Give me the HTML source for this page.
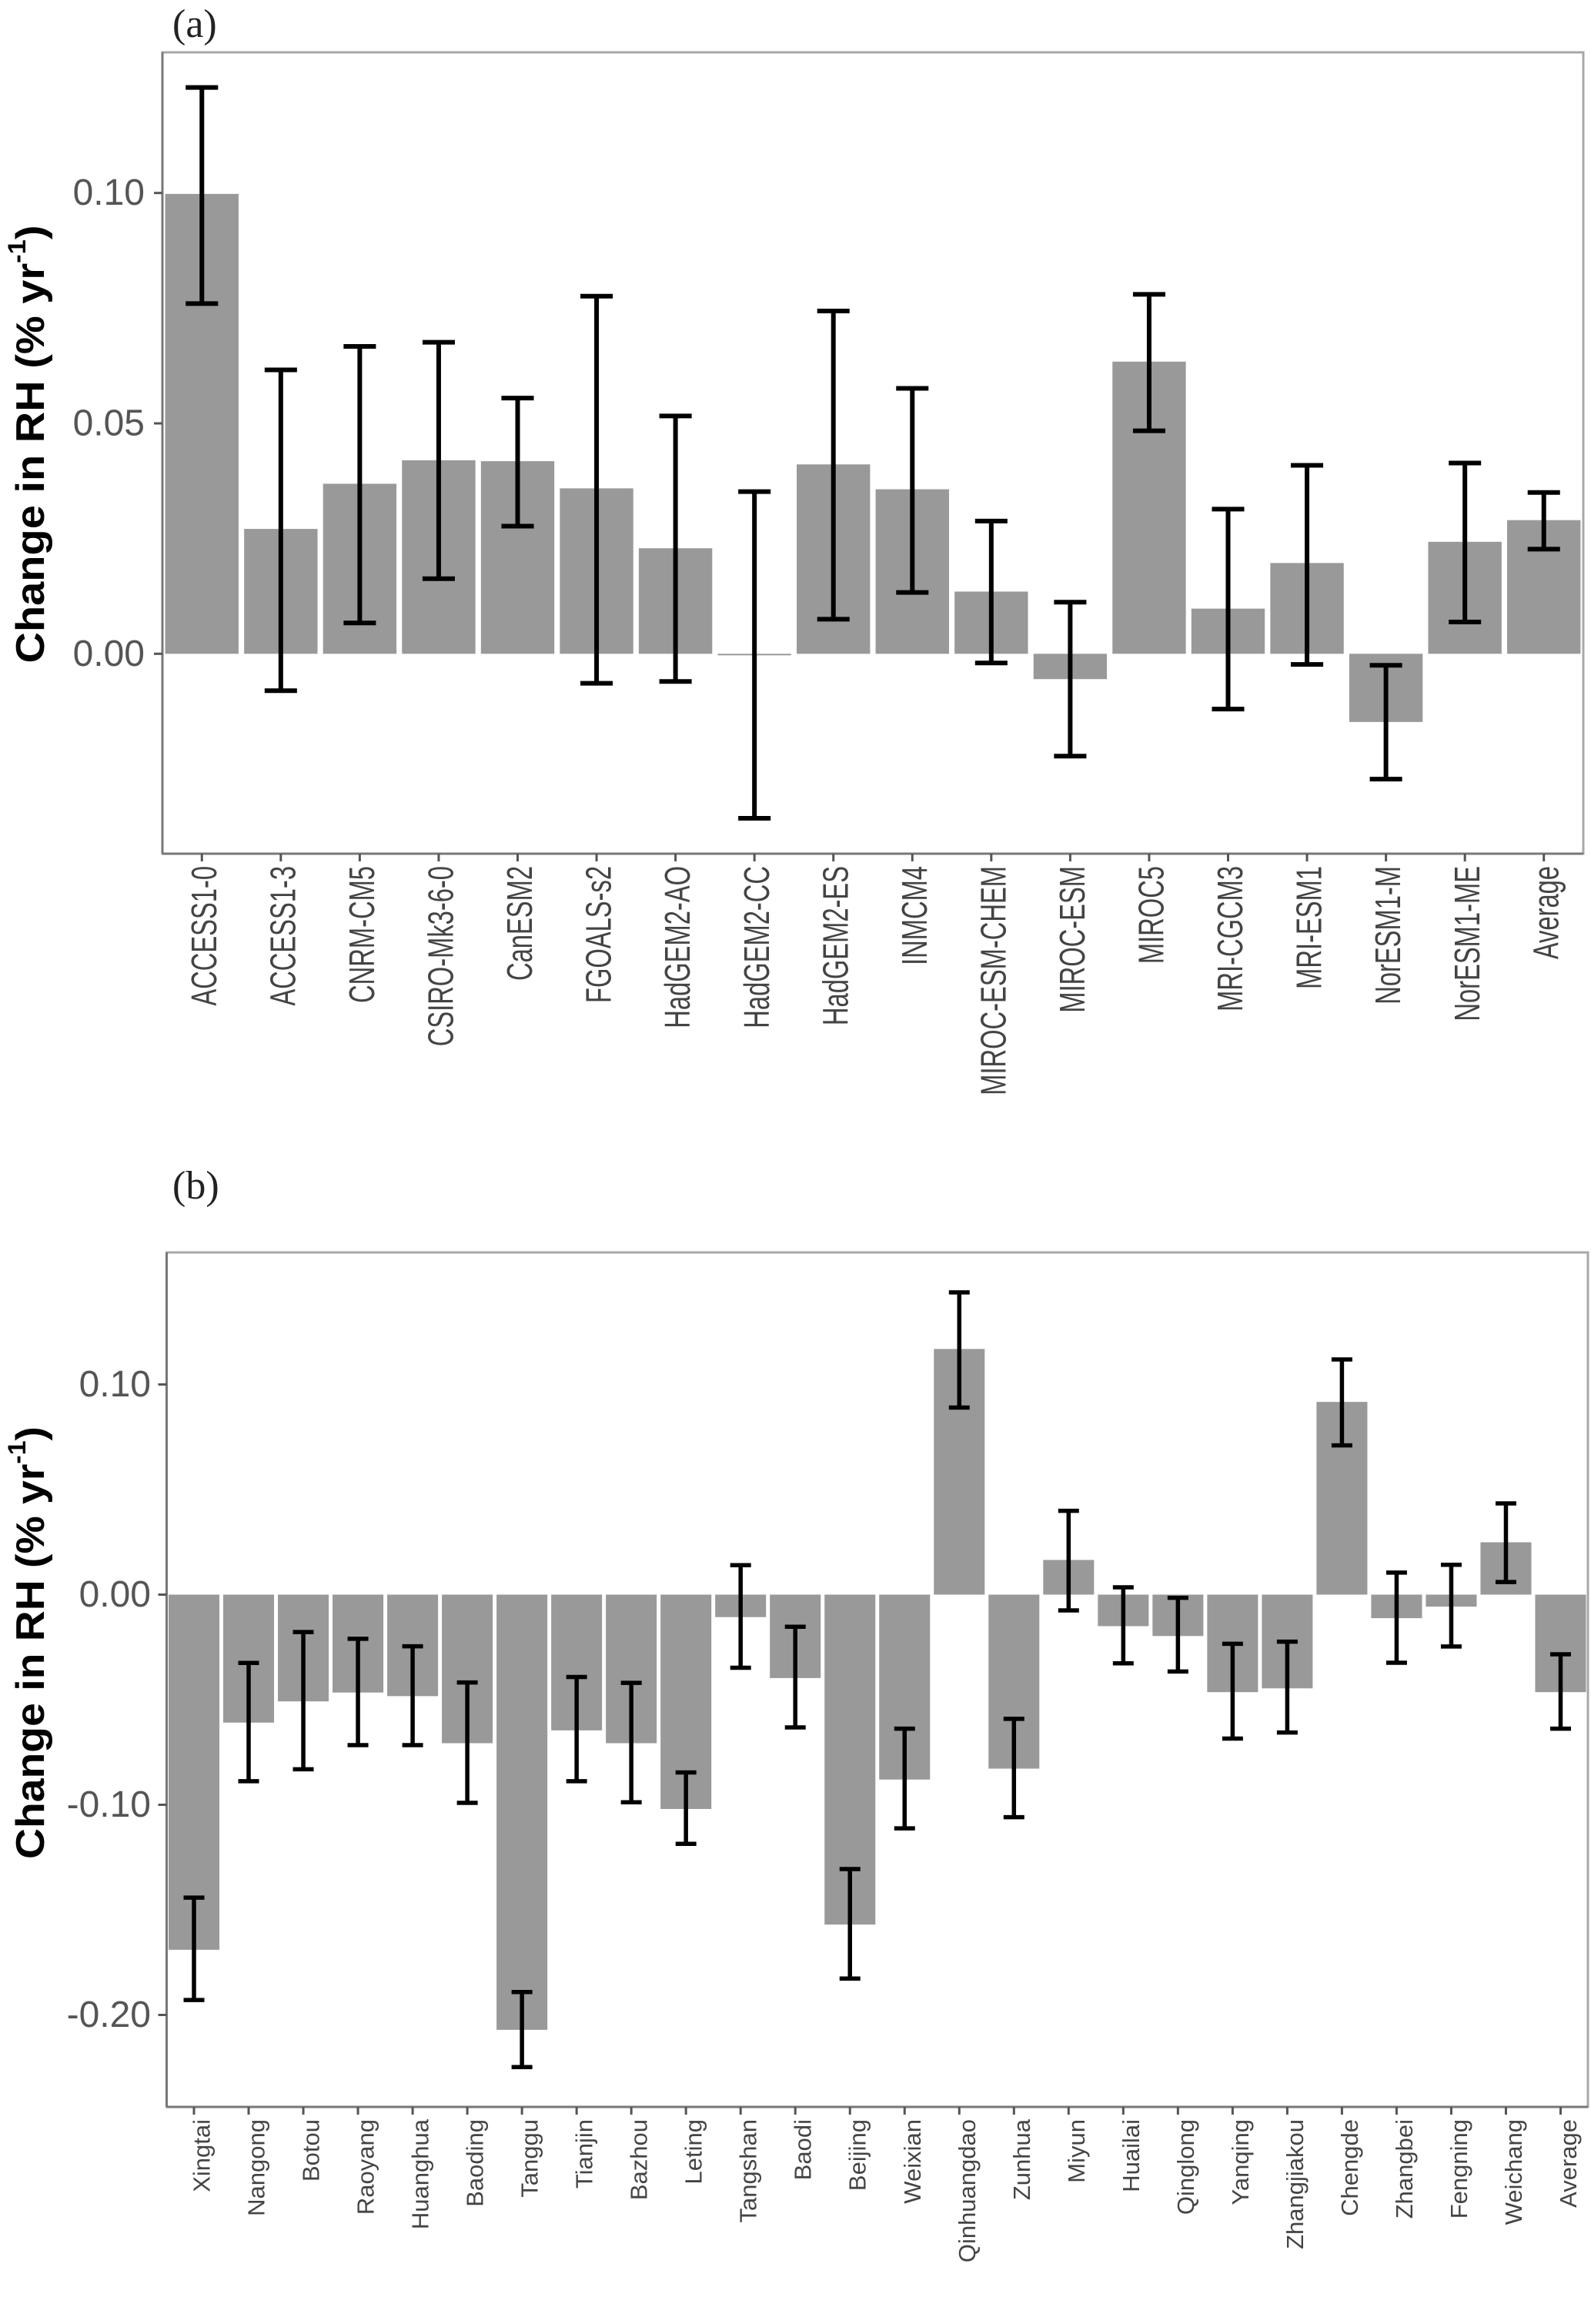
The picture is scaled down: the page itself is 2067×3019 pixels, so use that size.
<!DOCTYPE html>
<html><head><meta charset="utf-8"><style>
html,body{margin:0;padding:0;background:#fff;}
svg{display:block;}
text{font-family:"Liberation Sans",sans-serif;}
</style></head>
<body>
<svg id="fig" width="2067" height="3019" viewBox="0 0 2067 3019" xmlns="http://www.w3.org/2000/svg">
<rect x="0" y="0" width="2067" height="3019" fill="#fff"/>
<text x="224" y="48" style="font-family:'Liberation Serif',serif;font-size:52px" fill="#222">(a)</text>
<text x="224" y="1557" style="font-family:'Liberation Serif',serif;font-size:52px" fill="#222">(b)</text>
<g id="pa"></g>
<g id="pb"></g>
</svg>
<script>
const aCategories = ["ACCESS1-0","ACCESS1-3","CNRM-CM5","CSIRO-Mk3-6-0","CanESM2","FGOALS-s2","HadGEM2-AO","HadGEM2-CC","HadGEM2-ES","INMCM4","MIROC-ESM-CHEM","MIROC-ESM","MIROC5","MRI-CGCM3","MRI-ESM1","NorESM1-M","NorESM1-ME","Average"];
const aValues = [0.0998,0.0271,0.0369,0.042,0.0418,0.0359,0.0229,-0.0003,0.0411,0.0357,0.0135,-0.0055,0.0634,0.0098,0.0197,-0.0148,0.0243,0.029];
const aUpper = [0.1229,0.0616,0.0667,0.0676,0.0555,0.0776,0.0516,0.0352,0.0744,0.0576,0.0288,0.0112,0.078,0.0314,0.0409,-0.0025,0.0414,0.035];
const aLower = [0.076,-0.008,0.0067,0.0163,0.0277,-0.0064,-0.006,-0.0357,0.0075,0.0133,-0.002,-0.0222,0.0484,-0.012,-0.0023,-0.0272,0.0069,0.0227];
const aTicks = [0.10,0.05,0.00];
const aTickLabels = ["0.10","0.05","0.00"];

const bCategories = ["Xingtai","Nangong","Botou","Raoyang","Huanghua","Baoding","Tanggu","Tianjin","Bazhou","Leting","Tangshan","Baodi","Beijing","Weixian","Qinhuangdao","Zunhua","Miyun","Huailai","Qinglong","Yanqing","Zhangjiakou","Chengde","Zhangbei","Fengning","Weichang","Average"];
const bValues = [-0.169,-0.0609,-0.0508,-0.0466,-0.0483,-0.0707,-0.2071,-0.0646,-0.0707,-0.102,-0.0107,-0.0397,-0.157,-0.088,0.1169,-0.0828,0.0165,-0.015,-0.0197,-0.0464,-0.0446,0.0917,-0.0112,-0.0057,0.0249,-0.0464];
const bUpper = [-0.1442,-0.0325,-0.0178,-0.021,-0.0246,-0.0418,-0.1891,-0.0392,-0.042,-0.0846,0.014,-0.0153,-0.1306,-0.0638,0.1438,-0.0591,0.0399,0.0035,-0.0015,-0.0234,-0.0224,0.1119,0.0105,0.0142,0.0434,-0.0284];
const bLower = [-0.1929,-0.0888,-0.0831,-0.0716,-0.0716,-0.0991,-0.2248,-0.0888,-0.0988,-0.1186,-0.0348,-0.0632,-0.1827,-0.1112,0.089,-0.1059,-0.0075,-0.0327,-0.0366,-0.0685,-0.0656,0.071,-0.0324,-0.0247,0.006,-0.0638];
const bTicks = [0.10,0.00,-0.10,-0.20];
const bTickLabels = ["0.10","0.00","-0.10","-0.20"];

const NS = "http://www.w3.org/2000/svg";
function mk(tag, attrs, parent){
  const e = document.createElementNS(NS, tag);
  for (const k in attrs) e.setAttribute(k, attrs[k]);
  parent.appendChild(e);
  return e;
}

function drawPanel(g, cfg, cats, vals, up, lo, ticks, tickLabels, prefix){
  const yScale = v => cfg.zeroY - v * cfg.pxPerUnit;
  const pitch = (cfg.right - cfg.left) / cats.length;
  const xCenter = i => cfg.left + pitch * (i + 0.5);
  const frame = mk("rect", {x: cfg.left, y: cfg.top, width: cfg.right - cfg.left, height: cfg.bottom - cfg.top, fill: "none", stroke: "#a8a8a8", "stroke-width": 3}, g);
  
  
  const yl = mk("line", {x1: cfg.left, y1: cfg.top, x2: cfg.left, y2: cfg.bottom, stroke: "#777", "stroke-width": 3}, g);
  
  
  const xl = mk("line", {x1: cfg.left, y1: cfg.bottom, x2: cfg.right, y2: cfg.bottom, stroke: "#777", "stroke-width": 3}, g);
  
  
  ticks.forEach((t, i) => {
    const y = yScale(t);
    const tk = mk("line", {x1: cfg.left - 11, y1: y, x2: cfg.left, y2: y, stroke: "#555", "stroke-width": 3}, g);
    
    
    const tx = mk("text", {x: cfg.tickLabelRight, y: y, "text-anchor": "end", "dominant-baseline": "central", "font-size": 48, fill: "#555"}, g);
    tx.textContent = tickLabels[i];
    
    
  });
  cats.forEach((c, i) => {
    const w = pitch * 0.93;
    const y0 = yScale(0), y1 = yScale(vals[i]);
    const h = Math.max(Math.abs(y1 - y0), 2);
    const bar = mk("rect", {x: xCenter(i) - w / 2, y: Math.min(y0, y1), width: w, height: h, fill: "#999999"}, g);
    
    
  });
  cats.forEach((c, i) => {
    const cx = xCenter(i), cw = pitch * cfg.capFrac / 2;
    const yu = yScale(up[i]), yd = yScale(lo[i]);
    const eg = mk("g", {stroke: "#000", "stroke-width": cfg.sw, fill: "none"}, g);
    
    
    mk("line", {x1: cx, y1: yu, x2: cx, y2: yd}, eg);
    mk("line", {x1: cx - cw, y1: yu, x2: cx + cw, y2: yu}, eg);
    mk("line", {x1: cx - cw, y1: yd, x2: cx + cw, y2: yd}, eg);
  });
  cats.forEach((c, i) => {
    const cx = xCenter(i);
    const tk = mk("line", {x1: cx, y1: cfg.bottom, x2: cx, y2: cfg.bottom + 10, stroke: "#555", "stroke-width": 3}, g);
    
    
    const lx = cx + cfg.labelDx, ly = cfg.labelTop;
    const t = mk("text", {transform: "translate(" + lx + "," + ly + ") scale(" + cfg.labelSx + ",1) rotate(-90)", x: 0, y: 0, "text-anchor": "end", "dominant-baseline": "central", "font-size": cfg.labelFs, fill: "#444"}, g);
    t.textContent = c;
    
    
  });
  const yt = mk("text", {transform: "translate(" + cfg.titleX + "," + cfg.titleY + ") rotate(-90)", x: 0, y: 0, "text-anchor": "middle", "dominant-baseline": "central", "font-size": 52, "font-weight": "bold", fill: "#000", textLength: cfg.titleLen, lengthAdjust: "spacingAndGlyphs"}, g);
  
  
  yt.appendChild(document.createTextNode("Change in RH (% yr"));
  const sup = mk("tspan", {"font-size": 32, dy: -18}, yt);
  sup.textContent = "-1";
  const cl = mk("tspan", {dy: 18}, yt);
  cl.textContent = ")";
}

drawPanel(document.getElementById("pa"),
  {left: 211, right: 2057, top: 68, bottom: 1109, zeroY: 849.3, pxPerUnit: 5986, tickLabelRight: 188,
   capFrac: 0.41, sw: 6, labelDx: 3, labelTop: 1125, labelFs: 32.7, labelSx: 1.42,
   titleX: 40, titleY: 577, titleLen: 569},
  aCategories, aValues, aUpper, aLower, aTicks, aTickLabels, "panel-a");

drawPanel(document.getElementById("pb"),
  {left: 216.5, right: 2063, top: 1627, bottom: 2737, zeroY: 2071.5, pxPerUnit: 2730, tickLabelRight: 196,
   capFrac: 0.38, sw: 5.5, labelDx: 10, labelTop: 2753, labelFs: 31, labelSx: 1,
   titleX: 40, titleY: 2134, titleLen: 562},
  bCategories, bValues, bUpper, bLower, bTicks, bTickLabels, "panel-b");
</script>
</body></html>
